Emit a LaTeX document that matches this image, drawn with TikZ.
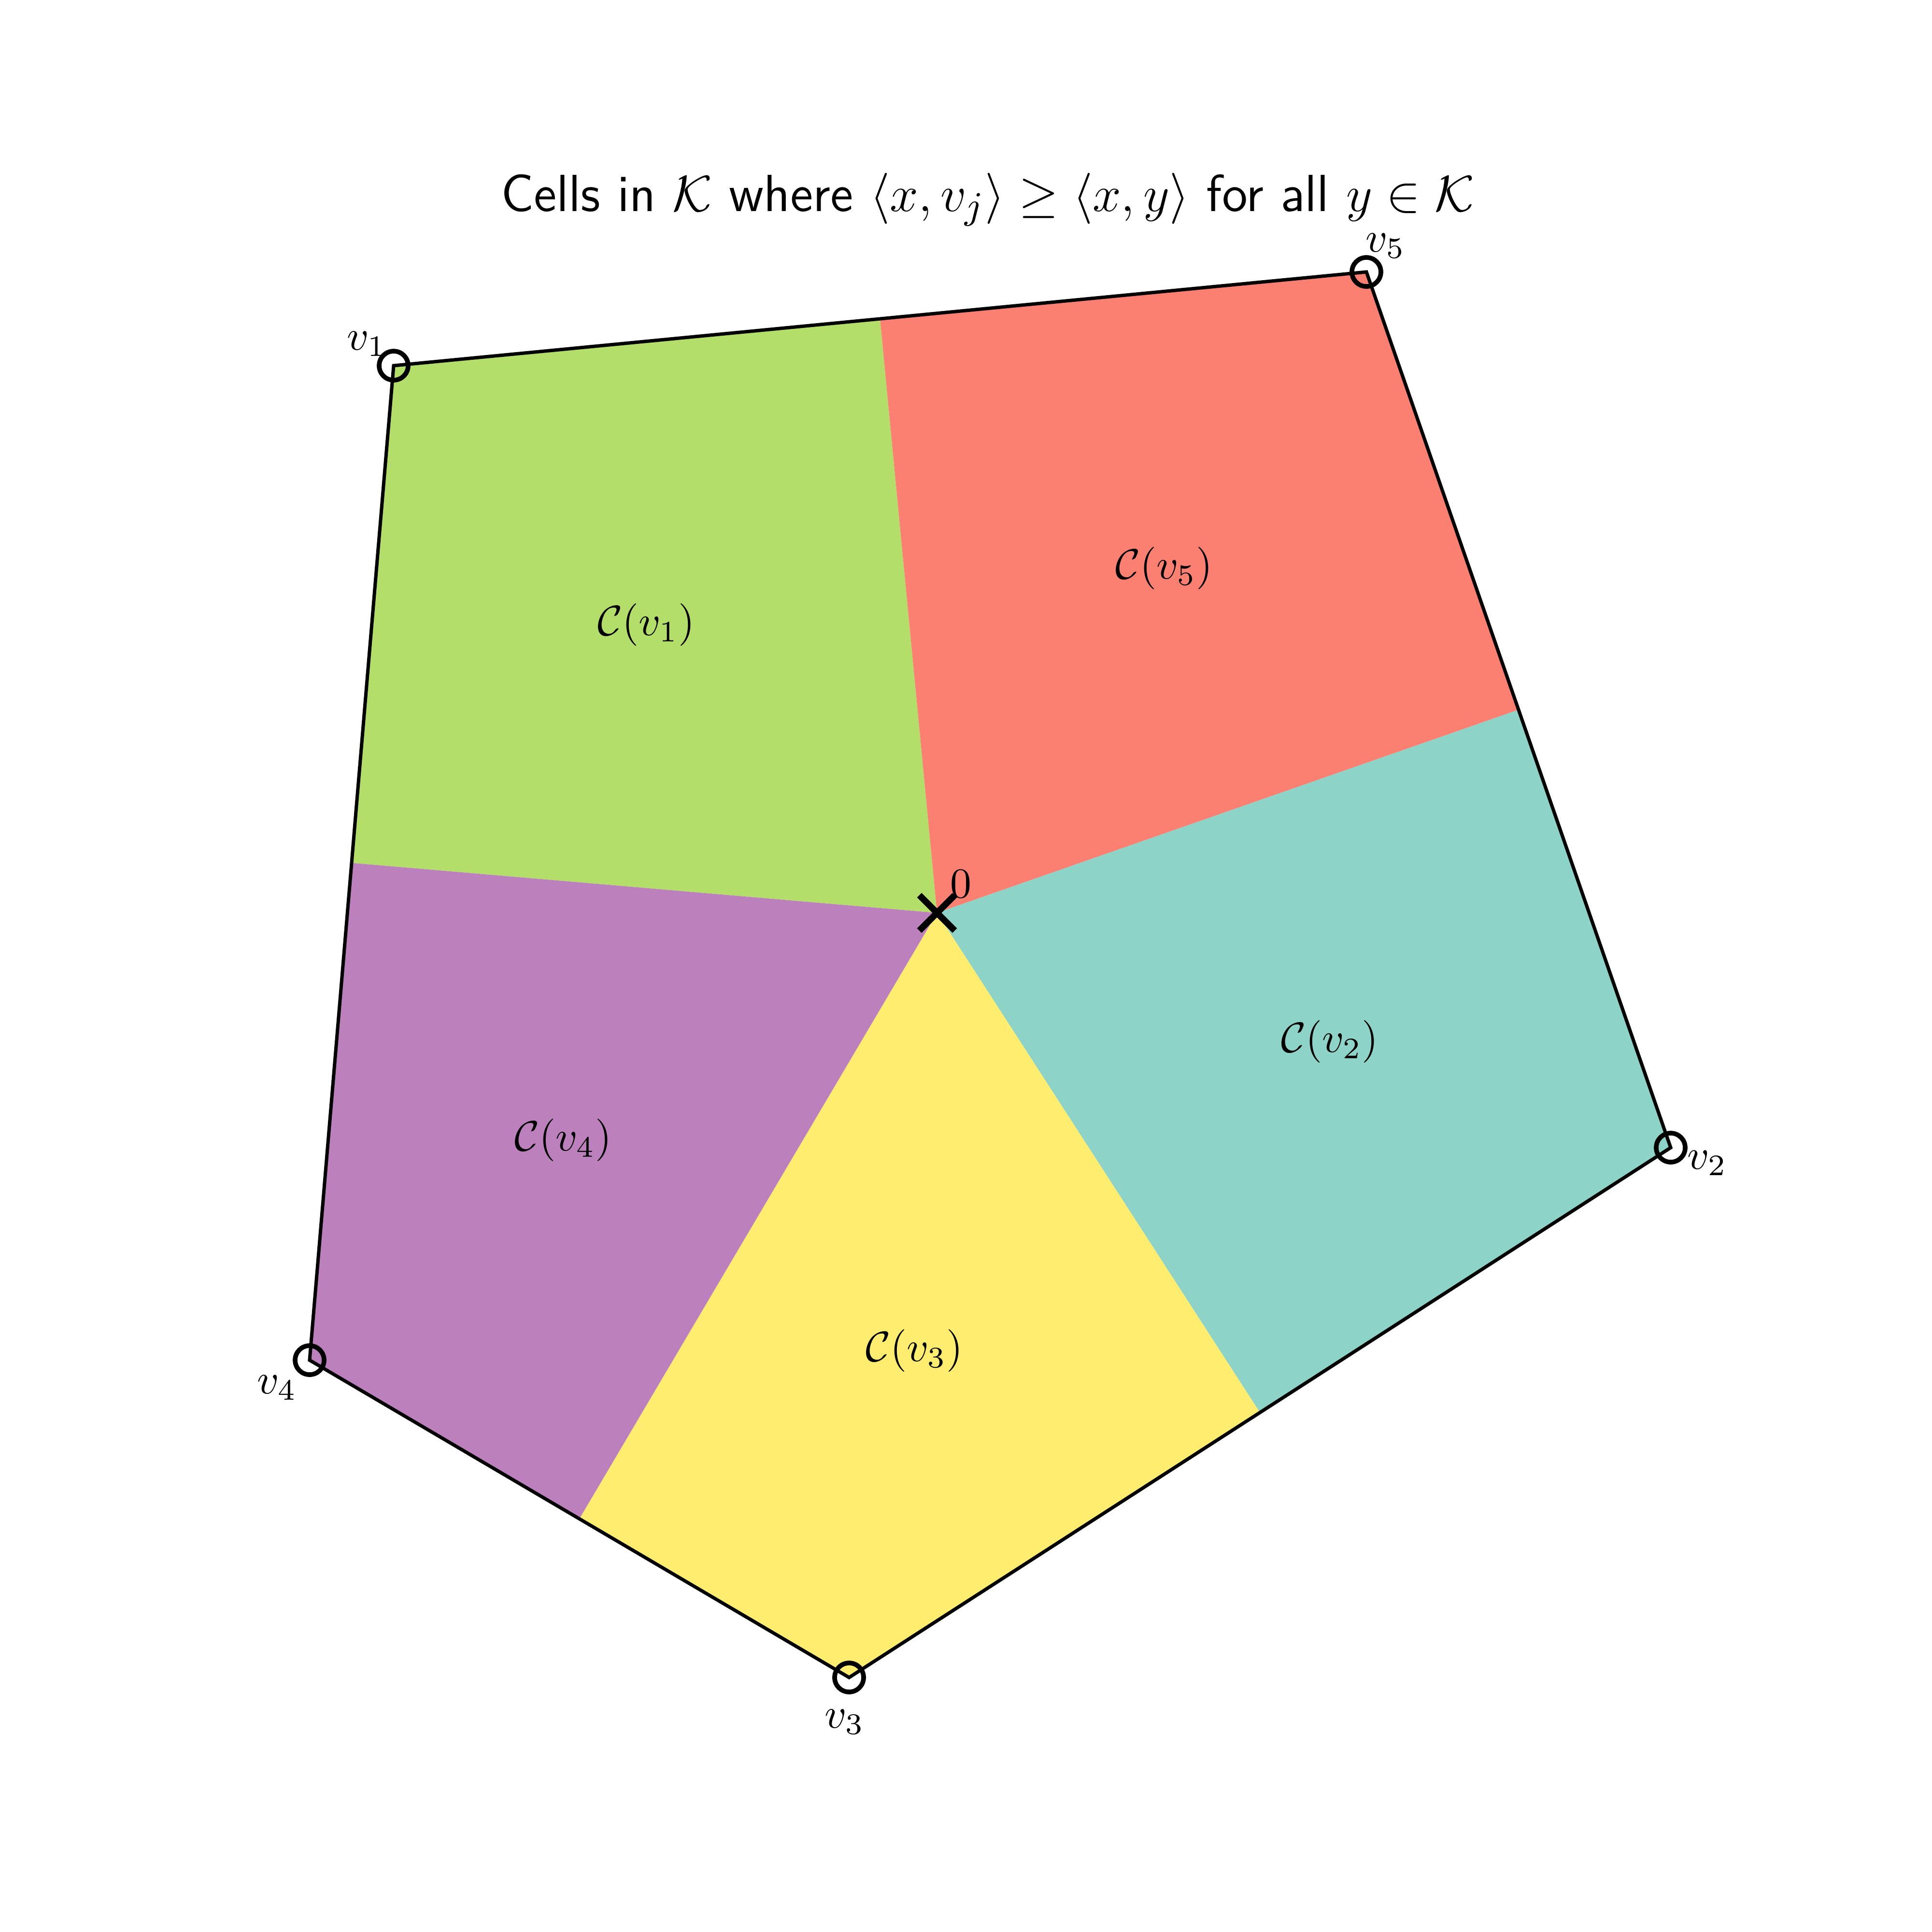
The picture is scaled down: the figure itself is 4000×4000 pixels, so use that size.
\documentclass[tikz,border=0pt]{standalone}
\usepackage{amsmath}
\usepackage{amssymb}
\usepackage{tikz}
\usetikzlibrary{calc, shapes.misc}
\definecolor{cellone}{HTML}{B3DE69}
\definecolor{celltwo}{HTML}{8DD3C7}
\definecolor{cellthree}{HTML}{FFED6F}
\definecolor{cellfour}{HTML}{BC80BD}
\definecolor{cellfive}{HTML}{FB8072}

\begin{document}
\begin{tikzpicture}[x=0.004cm, y=-0.004cm,
    vtx/.style={circle, draw=black, line width=1.1pt, minimum size=0.24cm,
      inner sep=0pt},
    origin/.style={cross out, draw=black, line width=1.5pt, minimum size=0.24cm,
      inner sep=0pt},
    lbl/.style={inner sep=0pt, font=\normalsize},
    hull/.style={draw=black, line width=0.8pt, line join=miter}]
  \useasboundingbox (0,0) rectangle (4000,4000);
  % polytope corners and the origin
  \foreach \i/\px/\py in {1/815/757, 2/3459/2376, 3/1758/3473, 4/641/2816, 5/2829/563}
    \coordinate (v\i) at (\px,\py);
  \coordinate (o) at (1940,1890);
  % cuts of the boundary between neighbouring cells
  \coordinate (m15) at ($(v1)!0.5!(v5)$);
  \coordinate (m52) at ($(v5)!0.5!(v2)$);
  \coordinate (m23) at ($(v2)!0.5!(v3)$);
  \coordinate (m34) at ($(v3)!0.5!(v4)$);
  \coordinate (m41) at ($(v4)!0.5!(v1)$);
  % coloured cells
  \fill[cellone] (o) -- (m41) -- (v1) -- (m15) -- cycle;
  \fill[cellfive] (o) -- (m15) -- (v5) -- (m52) -- cycle;
  \fill[celltwo] (o) -- (m52) -- (v2) -- (m23) -- cycle;
  \fill[cellthree] (o) -- (m23) -- (v3) -- (m34) -- cycle;
  \fill[cellfour] (o) -- (m34) -- (v4) -- (m41) -- cycle;
  % outline of K
  \draw[hull] (v1) -- (v5) -- (v2) -- (v3) -- (v4) -- cycle;
  \foreach \i in {1,...,5}
    \node[vtx] (n\i) at (v\i) {};
  \node[origin] (zero) at (o) {};
  % vertex labels
  \node[lbl] (l1) at (760,712) {$v_1$};
  \node[lbl] (l2) at (3535,2408) {$v_2$};
  \node[lbl] (l3) at (1749,3565) {$v_3$};
  \node[lbl] (l4) at (574,2873) {$v_4$};
  \node[lbl] (l5) at (2869,509) {$v_5$};
  \node[lbl] (l0) at (1989,1830) {$0$};
  % cell labels
  \node[lbl] (c1) at (1338,1293) {$\mathcal{C}(v_1)$};
  \node[lbl] (c2) at (2753,2156) {$\mathcal{C}(v_2)$};
  \node[lbl] (c3) at (1893,2796) {$\mathcal{C}(v_3)$};
  \node[lbl] (c4) at (1166,2360) {$\mathcal{C}(v_4)$};
  \node[lbl] (c5) at (2410,1176) {$\mathcal{C}(v_5)$};
  % title
  \node[anchor=base, inner sep=0pt, font=\sffamily\fontsize{12.3}{14}\selectfont] (title)
    at (2045,437) {Cells in $\mathcal{K}$ where $\langle x, v_j\rangle \geq \langle x, y\rangle$ for all $y \in \mathcal{K}$};
\end{tikzpicture}
\end{document}
